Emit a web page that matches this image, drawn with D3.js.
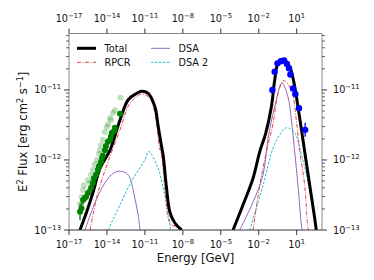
<!DOCTYPE html>
<html><head><meta charset="utf-8">
<script src="https://cdn.jsdelivr.net/npm/d3@7"></script>
<style>body{margin:0;background:#fff}svg{display:block}text{font-family:"DejaVu Sans",sans-serif;fill:#111}</style>
</head><body><svg id="c" width="374" height="280"></svg>
<script>
// log10(E/GeV), log10(E^2 Flux)
const totalLE = [-16.13,-15.60,-15.08,-14.55,-13.76,-12.97,-12.32,-11.66,-11.26,-10.74,-10.21,-9.95,-9.68,-9.56,-9.29,-9.03,-8.63,-8.10,
                 NaN,-4.03,-3.24,-2.45,-1.92,-1.45,-1.0,-0.74,-0.48,-0.08,0.45,0.84,1.10,1.42,1.63,2.03,2.42,2.55];
const totalLF = [-13.0,-12.74,-12.45,-12.12,-11.86,-11.43,-11.14,-11.05,-11.02,-11.05,-11.24,-11.52,-11.81,-11.93,-12.40,-12.74,-12.90,-13.0,
                 NaN,-13.0,-12.64,-12.26,-11.88,-11.62,-11.24,-10.86,-10.62,-10.56,-10.67,-10.95,-11.24,-11.62,-11.88,-12.36,-12.83,-13.0];
const rpcrLE = [-15.34,-14.69,-13.90,-12.97,-12.18,-11.26,-10.61,-10.08,-9.87,-9.68,-9.42,-9.16,-8.89,-8.50,-8.24,
                NaN,-2.45,-1.92,-1.39,-0.87,-0.48,-0.08,0.05,0.58,0.97,1.24,1.63,1.89,1.95];
const rpcrLF = [-13.0,-12.45,-12.02,-11.57,-11.19,-11.06,-11.12,-11.47,-11.81,-11.93,-12.40,-12.83,-12.93,-12.95,-13.0,
                NaN,-13.0,-12.36,-11.88,-11.48,-11.05,-10.87,-10.87,-11.0,-11.43,-11.88,-12.36,-12.97,-13.0];
const dsaLE = [-15.74,-14.81,-14.02,-13.50,-12.97,-12.45,-12.18,-11.79,-11.53,-11.39,
               NaN,-3.50,-2.45,-1.66,-1.27,-0.74,-0.16,0.31,0.58,0.84,1.10,1.37,1.43];
const dsaLF = [-13.0,-12.55,-12.29,-12.19,-12.16,-12.19,-12.26,-12.55,-12.79,-13.0,
               NaN,-13.0,-12.60,-12.21,-11.70,-11.24,-10.90,-11.10,-11.43,-11.88,-12.36,-12.93,-13.0];
const dsa2LE = [-13.90,-12.97,-11.92,-11.0,-10.74,-10.61,-9.95,-9.56,-9.16,-8.97,
                NaN,-2.71,-1.66,-0.87,-0.34,0.19,0.84,1.24,1.76,2.29,2.55];
const dsa2LF = [-13.0,-12.64,-12.26,-12.0,-11.88,-11.89,-12.12,-12.40,-12.74,-13.0,
                NaN,-13.0,-12.36,-11.83,-11.64,-11.54,-11.61,-11.83,-12.21,-12.69,-13.0];
// data points
const fermiLE = [-0.92,-0.74,-0.52,-0.26,0.0,0.23,0.39,0.50,0.71,0.90,1.18,1.67];
const fermiLF = [-11.0,-10.74,-10.62,-10.59,-10.58,-10.63,-10.69,-10.78,-10.98,-11.06,-11.26,-11.57];
const fermiErr = [0,0,0,0,0,0,0,0,0,0,0,0.1];
const dgLE = [-16.13,-16.01,-15.89,-15.66,-15.50,-15.26,-15.11,-15.03,-14.87,-14.71,-14.63,-14.47,-14.39,-14.32,-14.16,-14.08,-13.92,-13.76,-13.68,-13.61,-13.45,-13.37,-12.97];
const dgLF = [-12.74,-12.69,-12.57,-12.53,-12.47,-12.40,-12.33,-12.26,-12.21,-12.14,-12.09,-12.03,-11.97,-11.94,-11.86,-11.80,-11.74,-11.71,-11.66,-11.61,-11.59,-11.54,-11.34];
const dgErr = [0.12,0.08,0.07,0.06,0.06,0.06,0.05,0.05,0.05,0.05,0.05,0.04,0.04,0.04,0.04,0.04,0.04,0.03,0.03,0.03,0.03,0.03,0.03];
const lgLE = [-16.13,-16.01,-15.89,-15.82,-15.50,-15.34,-15.26,-15.11,-14.95,-14.79,-14.63,-14.55,-14.47,-14.32,-14.16,-14.0,-13.92,-13.76,-13.68,-13.53,-13.37,-12.93];
const lgLF = [-12.63,-12.53,-12.43,-12.36,-12.29,-12.33,-12.21,-12.14,-12.06,-12.00,-11.91,-11.86,-11.79,-11.71,-11.60,-11.53,-11.49,-11.40,-11.43,-11.33,-11.29,-11.11];
const xTickExp = [-17,-14,-11,-8,-5,-2,1];
const yTickExp = [-13,-12,-11];
const legendLabels = ["Total","RPCR","DSA","DSA 2"];

const svg = d3.select("#c");
const L=69,R=322,T=33.5,B=230;
const x = d3.scaleLog().domain([1e-17,1e3]).range([L,R]);
const y = d3.scaleLog().domain([1e-13,6.4e-11]).range([B,T]);
const p = v => Math.pow(10,v);

svg.append("defs").append("clipPath").attr("id","pc").append("rect").attr("x",L).attr("y",T).attr("width",R-L).attr("height",B-T);
svg.select("defs").append("clipPath").attr("id","rc").append("rect").attr("x",0).attr("y",0).attr("width",360).attr("height",280);

const line = d3.line().defined(d=>!isNaN(d[0])).x(d=>x(p(d[0]))).y(d=>y(p(d[1]))).curve(d3.curveCatmullRom.alpha(0.5));
const zipArr = (a,b)=>a.map((v,i)=>[v,b[i]]);
const g = svg.append("g").attr("clip-path","url(#pc)");
const styles = [
  {le:dsaLE,lf:dsaLF,c:"#9467bd",w:1,d:null},
  {le:dsa2LE,lf:dsa2LF,c:"#17becf",w:1,d:"2.5,1.5"},
  {le:rpcrLE,lf:rpcrLF,c:"#e84040",w:1,d:"4,1.5,1,1.5"},
  {le:totalLE,lf:totalLF,c:"#000",w:3,d:null}
];
styles.forEach(s=>{
  g.append("path").attr("d",line(zipArr(s.le,s.lf))).attr("fill","none")
   .attr("stroke",s.c).attr("stroke-width",s.w).attr("stroke-dasharray",s.d);
});
// light green
g.selectAll(".lg").data(zipArr(lgLE,lgLF)).join("circle")
  .attr("cx",d=>x(p(d[0]))).attr("cy",d=>y(p(d[1]))).attr("r",3).attr("fill","green").attr("opacity",0.25);
// dark green
const dg = zipArr(dgLE,dgLF);
g.selectAll(".dge").data(dg).join("line")
  .attr("x1",d=>x(p(d[0]))).attr("x2",d=>x(p(d[0])))
  .attr("y1",(d,i)=>y(p(d[1]+dgErr[i]))).attr("y2",(d,i)=>y(p(d[1]-dgErr[i]))).attr("stroke","green").attr("stroke-width",1.3);
g.selectAll(".dg").data(dg).join("circle")
  .attr("cx",d=>x(p(d[0]))).attr("cy",d=>y(p(d[1]))).attr("r",3).attr("fill","green");
// fermi
const fm = zipArr(fermiLE,fermiLF);
g.selectAll(".fe").data(fm.filter((d,i)=>fermiErr[i]>0)).join("line")
  .attr("x1",d=>x(p(d[0]))).attr("x2",d=>x(p(d[0])))
  .attr("y1",d=>y(p(d[1]+0.1))).attr("y2",d=>y(p(d[1]-0.1))).attr("stroke","blue").attr("stroke-width",1.3);
g.selectAll(".fm").data(fm).join("circle")
  .attr("cx",d=>x(p(d[0]))).attr("cy",d=>y(p(d[1]))).attr("r",3.2).attr("fill","blue");

// spines
const spine="#888";
svg.append("line").attr("x1",L).attr("x2",L).attr("y1",T).attr("y2",B).attr("stroke",spine);
svg.append("line").attr("x1",R).attr("x2",R).attr("y1",T).attr("y2",B).attr("stroke",spine);
svg.append("line").attr("x1",L).attr("x2",R).attr("y1",T).attr("y2",T).attr("stroke",spine);
svg.append("line").attr("x1",L).attr("x2",R).attr("y1",B).attr("y2",B).attr("stroke","#333");

const tickC="#222", fs=9.7;
function expLabel(sel, e){
  sel.append("tspan").text("10");
  sel.append("tspan").attr("dy",-4).attr("font-size",fs*0.7).text((e<0?"\u2212":"")+Math.abs(e));
}
xTickExp.forEach(e=>{
  const xx = x(p(e));
  svg.append("line").attr("x1",xx).attr("x2",xx).attr("y1",B).attr("y2",B+5).attr("stroke",tickC).attr("stroke-width",0.9);
  svg.append("line").attr("x1",xx).attr("x2",xx).attr("y1",T).attr("y2",T-5).attr("stroke",tickC).attr("stroke-width",0.9);
  expLabel(svg.append("text").attr("x",xx).attr("y",248).attr("text-anchor","middle").attr("font-size",fs), e);
  expLabel(svg.append("text").attr("x",xx).attr("y",21.5).attr("text-anchor","middle").attr("font-size",fs), e);
});
const rg = svg.append("g").attr("clip-path","url(#rc)");
yTickExp.forEach(e=>{
  const yy = y(p(e));
  svg.append("line").attr("x1",L-5).attr("x2",L).attr("y1",yy).attr("y2",yy).attr("stroke",tickC).attr("stroke-width",0.9);
  svg.append("line").attr("x1",R).attr("x2",R+5).attr("y1",yy).attr("y2",yy).attr("stroke",tickC).attr("stroke-width",0.9);
  expLabel(svg.append("text").attr("x",L-8).attr("y",yy+3.5).attr("text-anchor","end").attr("font-size",fs), e);
  expLabel(rg.append("text").attr("x",R+11).attr("y",yy+3.5).attr("text-anchor","start").attr("font-size",fs), e);
});
// minor y ticks
const [y0,y1] = y.domain();
for(let e=-13;e<=-11;e++){
  for(let k=2;k<=9;k++){
    const v=k*p(e); if(v>y1) continue;
    const yy=y(v);
    svg.append("line").attr("x1",L-3).attr("x2",L).attr("y1",yy).attr("y2",yy).attr("stroke",tickC).attr("stroke-width",0.7);
    svg.append("line").attr("x1",R).attr("x2",R+3).attr("y1",yy).attr("y2",yy).attr("stroke",tickC).attr("stroke-width",0.7);
  }
}
// axis labels
svg.append("text").attr("x",(L+R)/2).attr("y",262).attr("text-anchor","middle").attr("font-size",11.6).text("Energy [GeV]");
const yl = svg.append("text").attr("transform",`translate(27,${(T+B)/2}) rotate(-90)`).attr("text-anchor","middle").attr("font-size",11.6);
yl.append("tspan").text("E");
yl.append("tspan").attr("dy",-4.5).attr("font-size",8.1).text("2");
yl.append("tspan").attr("dy",4.5).text(" Flux [erg cm");
yl.append("tspan").attr("dy",-4.5).attr("font-size",8.1).text("2");
yl.append("tspan").attr("dy",4.5).text(" s");
yl.append("tspan").attr("dy",-4.5).attr("font-size",8.1).text("\u22121");
yl.append("tspan").attr("dy",4.5).text("]");

// legend
const leg = [
  {x:77,y:48.3,c:"#000",w:3,d:null},
  {x:77,y:62.3,c:"#e84040",w:1,d:"4,1.5,1,1.5"},
  {x:151,y:48.3,c:"#9467bd",w:1,d:null},
  {x:151,y:62.3,c:"#17becf",w:1,d:"2.5,1.5"}
];
leg.forEach((l,i)=>{
  svg.append("line").attr("x1",l.x).attr("x2",l.x+19).attr("y1",l.y).attr("y2",l.y).attr("stroke",l.c).attr("stroke-width",l.w).attr("stroke-dasharray",l.d);
  svg.append("text").attr("x",l.x+27.5).attr("y",l.y+3.5).attr("font-size",fs).text(legendLabels[i]);
});
</script></body></html>
